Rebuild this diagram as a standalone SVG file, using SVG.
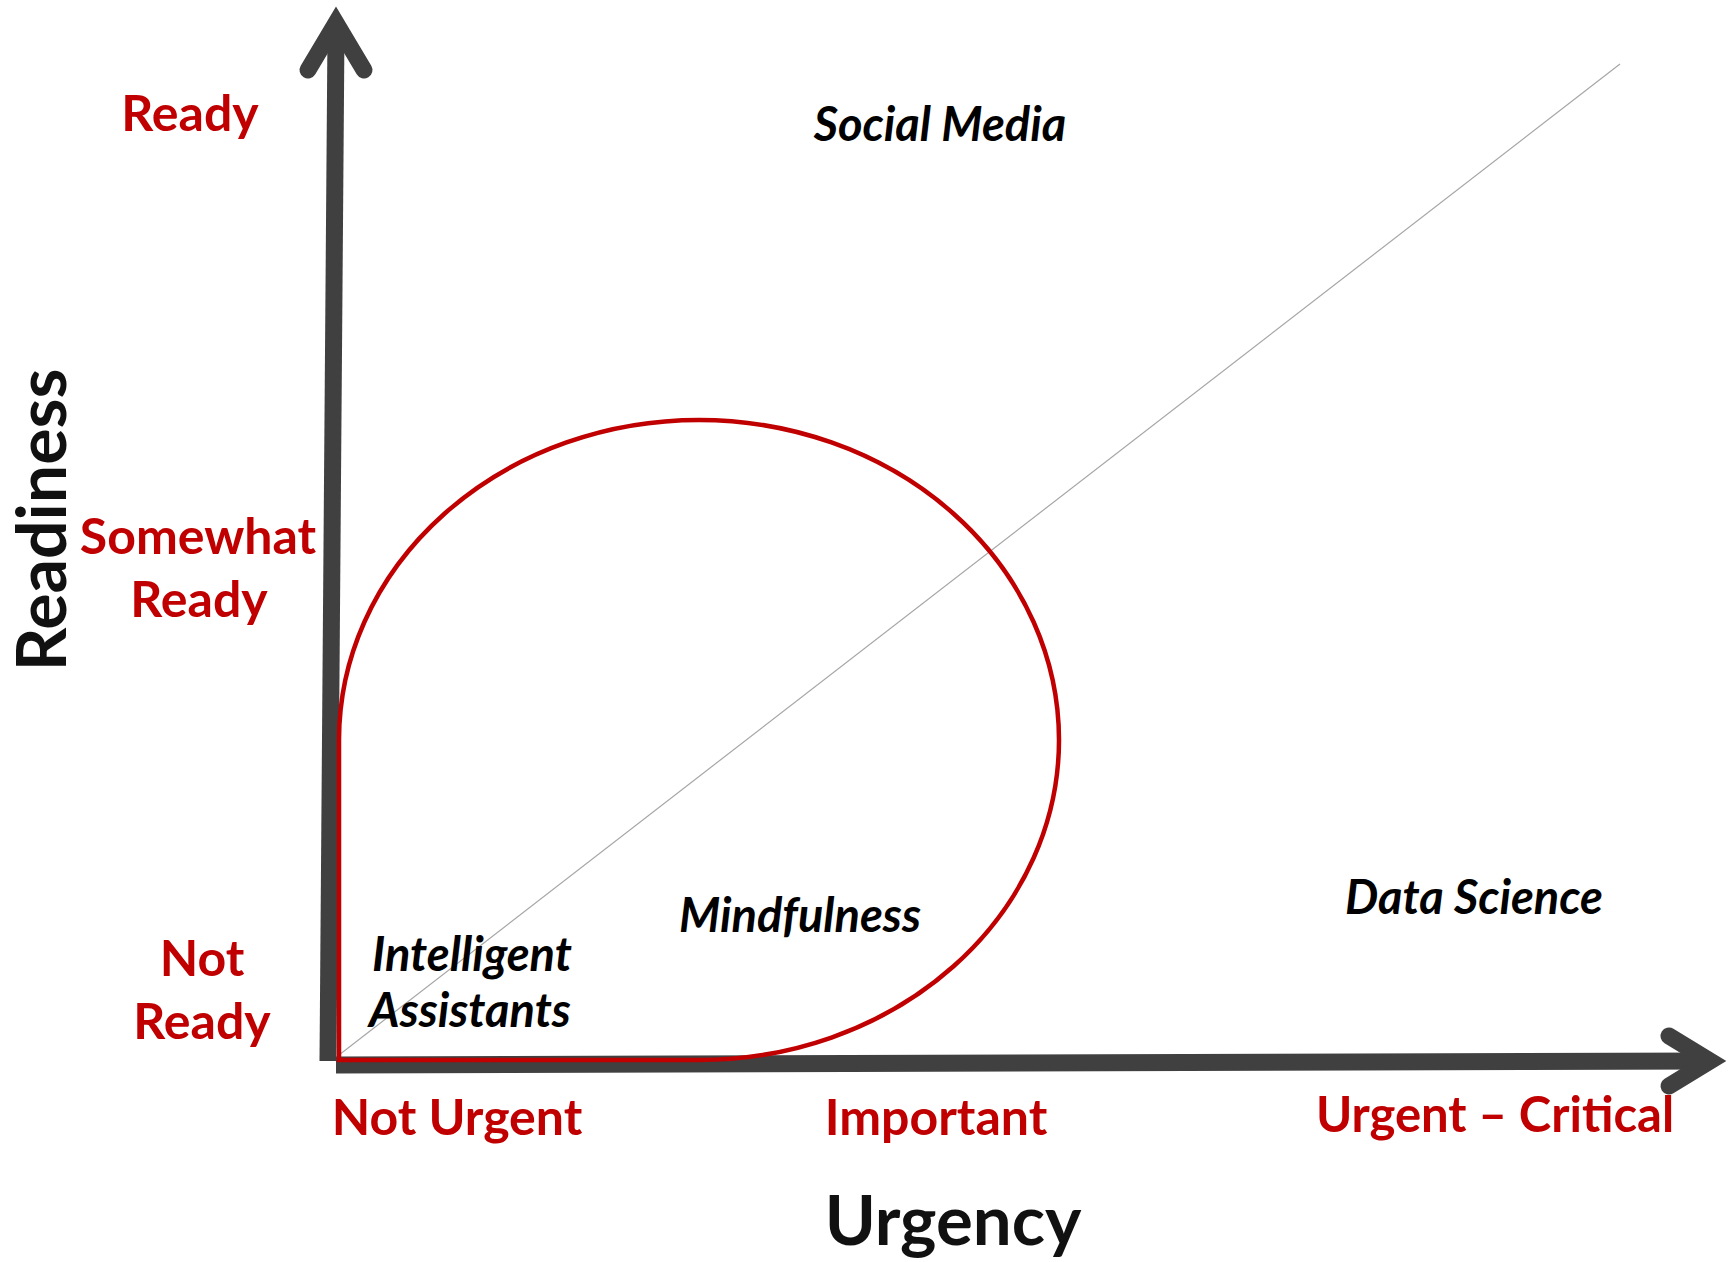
<svg xmlns="http://www.w3.org/2000/svg" width="1728" height="1262" viewBox="0 0 1728 1262">
<style>
.axis{fill:none;stroke:#404040;stroke-width:17}
.head{fill:none;stroke:#404040;stroke-width:17;stroke-linecap:round;stroke-linejoin:miter}
.red{font-family:Lato,"Open Sans",sans-serif;font-weight:bold;fill:#C00000;font-size:50px;text-anchor:middle}
.lbl{font-family:Lato,"Open Sans",sans-serif;font-weight:bold;font-style:italic;fill:#000;font-size:47px;text-anchor:middle}
.title{font-family:Lato,"Open Sans",sans-serif;font-weight:bold;fill:#111;font-size:69px;text-anchor:middle}
</style>
<rect width="1728" height="1262" fill="#fff"/>
<g id="connectors">
<line x1="339" y1="1055" x2="1620" y2="64" stroke="#A6A6A6" stroke-width="1.2"/>
<line class="axis" x1="328" y1="1061" x2="336" y2="30"/>
<polyline class="head" points="308,70 336,23 364,70"/>
<line class="axis" x1="336" y1="1065" x2="1712" y2="1061"/>
<polyline class="head" points="1669,1036 1710,1061 1669,1086"/>
</g>
<g id="region">
<path d="M339 1060 L339 740 A360 320 0 0 1 699 420 A360 320 0 0 1 1059 740 A360 320 0 0 1 699 1060 Z" fill="none" stroke="#C00000" stroke-width="4.5"/>
</g>
<g id="y-axis-labels">
<text class="title" style="font-size:68px" transform="translate(66,520) rotate(-90)">Readiness</text>
<text class="red" x="190" y="131">Ready</text>
<text class="red" x="198" y="554">Somewhat</text>
<text class="red" x="199" y="617">Ready</text>
<text class="red" x="202" y="976">Not</text>
<text class="red" x="202" y="1039">Ready</text>
</g>
<g id="x-axis-labels">
<text class="red" x="457" y="1135">Not Urgent</text>
<text class="red" x="936" y="1135">Important</text>
<text class="red" style="font-size:49px" x="1495" y="1132">Urgent – Critical</text>
<text class="title" x="953" y="1245">Urgency</text>
</g>
<g id="social-media"><text class="lbl" x="940" y="141">Social Media</text></g>
<g id="intelligent-assistants">
<text class="lbl" x="472" y="971">Intelligent</text>
<text class="lbl" x="470" y="1027">Assistants</text>
</g>
<g id="mindfulness"><text class="lbl" x="800" y="932">Mindfulness</text></g>
<g id="data-science"><text class="lbl" x="1474" y="914">Data Science</text></g>
</svg>
